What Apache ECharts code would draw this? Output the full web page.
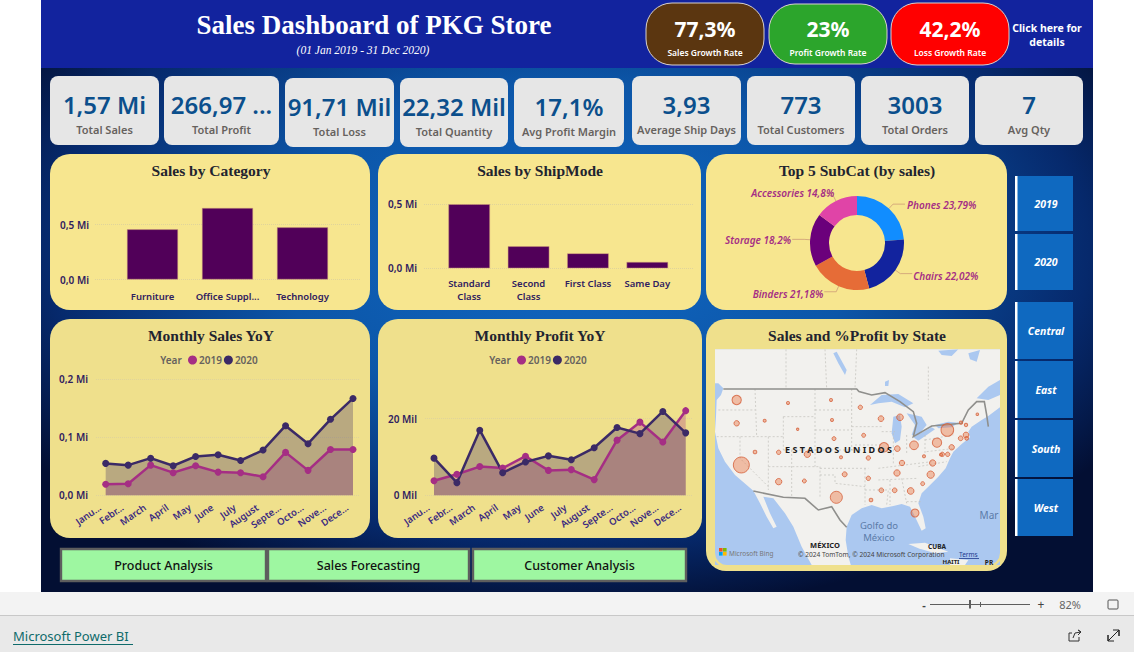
<!DOCTYPE html>
<html><head><meta charset="utf-8">
<style>html,body{margin:0;padding:0;background:#fff;overflow:hidden}#c{width:1134px;height:652px}</style>
<script src="https://cdn.jsdelivr.net/npm/echarts@6/dist/echarts.min.js"></script>
</head><body><div id="c"></div>
<script>
const kpiValues=['1,57 Mi','266,97 ...','91,71 Mil','22,32 Mil','17,1%','3,93','773','3003','7'];
const kpiLabels=['Total Sales','Total Profit','Total Loss','Total Quantity','Avg Profit Margin','Average Ship Days','Total Customers','Total Orders','Avg Qty'];
const rateValues=['77,3%','23%','42,2%'];
const rateLabels=['Sales Growth Rate','Profit Growth Rate','Loss Growth Rate'];
const categoryNames=['Furniture','Office Suppl...','Technology'];
const categorySales=[0.456,0.65,0.474];
const shipModes=['Standard\nClass','Second\nClass','First Class','Same Day'];
const shipSales=[0.498,0.171,0.116,0.049];
const subCats=['Phones','Chairs','Binders','Storage','Accessories'];
const subCatShare=[23.79,22.02,21.18,18.2,14.8];
const monthTicks=['Janu...','Febr...','March','April','May','June','July','August','Septe...','Octo...','Nove...','Dece...'];
const sales2019=[0.019,0.020,0.052,0.039,0.051,0.040,0.039,0.032,0.074,0.043,0.079,0.079];
const sales2020=[0.055,0.052,0.064,0.051,0.067,0.070,0.060,0.078,0.120,0.089,0.131,0.167];
const profit2019=[3.8,5.5,7.5,7.1,10.2,6.5,6.7,4.1,14.4,19.1,13.9,22.1];
const profit2020=[9.7,3.3,17.0,5.9,8.7,10.3,9.3,12.4,17.7,16.1,21.9,16.3];
const yearSlicers=['2019','2020'];
const regionSlicers=['Central','East','South','West'];
const navButtons=['Product Analysis','Sales Forecasting','Customer Analysis'];
// State bubbles: position on the map sheet and estimated sales (thousands)
const stateNames=['WA','OR','ID','MT','ND','SD','WY','NV','UT','CO','CA','AZ','NM','TX','NE','KS','OK','MN','WI','IA','MO','AR','LA','IL','IN','MI','OH','KY','TN','MS','AL','GA','FL','SC','NC','VA','WV','PA','NY','ME','VT','NH','MA','CT','RI','NJ','MD','DC','DE'];
const stateX=[95,95,179,249,378,381,278,150,221,307,109,221,298,394,387,408,419,466,528,476,490,490,498,537,577,585,627,591,576,529,569,617,630,653,677,683,657,696,727,817,768,783,783,767,785,740,728,712,708];
const stateY=[240,310,302,249,240,300,328,396,397,403,435,485,483,532,356,412,463,262,296,346,414,475,540,382,386,292,376,429,459,511,511,513,579,491,464,429,409,368,330,283,308,315,345,355,355,382,403,403,404];
const stateSales=[78,26,8,8,8,8,5,12,17,36,230,36,14,130,14,8,22,17,29,14,17,17,12,78,29,40,68,26,36,20,20,40,58,14,48,36,8,78,144,6,10,10,29,20,12,26,17,17,8];
// Map sheet geography
const landShapes=[
 [[20,70],[20,190],[40,190],[55,205],[48,225],[35,240],[33,290],[30,335],[40,385],[60,425],[90,465],[125,495],[145,512],[165,550],[185,590],[205,625],[215,620],[195,580],[175,530],[205,535],[240,580],[265,620],[290,680],[320,735],[320,760],[445,760],[430,710],[422,660],[425,620],[440,585],[470,565],[500,555],[530,565],[565,558],[590,552],[615,560],[630,590],[650,632],[662,625],[655,590],[640,550],[650,520],[670,500],[700,470],[722,445],[735,415],[745,395],[770,372],[795,352],[790,335],[800,320],[830,300],[850,288],[885,262],[900,262],[900,70]],
 [[610,672],[660,668],[730,695],[690,700],[640,685]],
 [[735,715],[790,720],[780,735],[735,735]]
];
const waterShapes=[
 [[495,255],[530,225],[580,222],[625,250],[600,262],[560,245],[520,250]],
 [[565,290],[585,285],[590,320],[585,360],[570,370],[560,340]],
 [[605,280],[650,290],[665,315],[640,345],[620,345],[630,315]],
 [[625,352],[680,322],[690,328],[640,362]],
 [[690,315],[730,305],[760,308],[740,322],[700,325]],
 [[385,100],[395,95],[425,150],[420,165],[400,130]],
 [[885,180],[850,200],[815,235],[850,240],[885,225]],
 [[700,92],[760,88],[740,108],[710,105]],
 [[540,185],[552,180],[550,198],[540,198]],
 [[790,100],[825,90],[815,125],[795,118]]
];
const countryLines=[
 [[55,207],[455,207],[462,215],[500,225],[540,218],[585,245],[625,275],[635,310],[625,350],[680,318],[770,310],[790,270],[815,245],[838,245],[845,285],[850,320]],
 [[145,513],[235,532],[300,535],[340,570],[380,560],[405,600],[425,622]]
];
const stateLines=[
 [[40,270],[150,270]],[[150,207],[155,350]],[[35,350],[235,350]],[[235,290],[330,290]],[[235,290],[235,390]],[[330,207],[330,440]],[[190,350],[190,510]],[[105,350],[105,415],[190,500]],[[190,440],[345,440]],[[260,390],[260,530]],[[235,390],[340,390]],[[330,270],[440,270]],[[330,330],[440,330]],[[330,390],[470,390]],[[345,445],[490,445]],[[345,440],[345,530]],[[345,465],[390,465],[390,490],[480,500]],[[480,445],[480,555]],[[480,510],[550,510],[545,555]],[[440,320],[530,320]],[[450,375],[530,375]],[[440,207],[440,390]],[[520,445],[680,425]],[[555,480],[555,555]],[[590,475],[605,550]],[[520,480],[640,475]],[[605,545],[650,545]],[[565,340],[565,430]],[[605,345],[605,400]],[[530,335],[570,335]],[[660,360],[745,345]],[[665,395],[750,385]],[[660,345],[660,400]],[[640,440],[725,425]],
 [[243,88],[243,207]],[[360,88],[365,207]],[[455,88],[450,207]],[[670,140],[670,240]]
];

const SANS='"Noto Sans","Open Sans",sans-serif', SERIF='"Liberation Serif","DejaVu Serif",serif';
const YELLOW='#f7e68f', YELLOW2='#efe08c', C19='#a52e84', C20='#3b2a66', AXC='#2f2060';
const g=[];
function rect(x,y,w,h,fill,r,extra){g.push(Object.assign({type:'rect',shape:{x,y,width:w,height:h,r:r||0},style:{fill},silent:true,z:0},extra||{}));}
function text(x,y,t,font,fill,align,extra){g.push(Object.assign({type:'text',x,y,silent:true,z:50,style:{text:t,font,fill,align:align||'center',verticalAlign:'middle'}},extra||{}));}
// page
rect(0,592,1134,23,'#f3f3f3');
rect(0,615,1134,1,'#c8c8c8');
rect(0,616,1134,36,'#e9e9e9');
rect(41,0,1052,592,{type:'radial',x:0.5,y:0.42,r:0.62,colorStops:[{offset:0,color:'#1168c4'},{offset:0.45,color:'#0c56a8'},{offset:0.8,color:'#06296c'},{offset:1,color:'#030f33'}]});
rect(41,0,1052,68,'#12239e');
text(374,25,'Sales Dashboard of PKG Store','bold 27px '+SERIF,'#fff');
text(363,50,'(01 Jan 2019 - 31 Dec 2020)','italic 11.5px '+SERIF,'#fff');
// growth pills
const pillX=[646,769,891], pillCol=['#5b3610','#2ca52c','#ff0000'];
rateValues.forEach((v,i)=>{rect(pillX[i],i==1?4:3,118,i==1?60:62,pillCol[i],26,{style:{fill:pillCol[i],stroke:'#d9d2cc',lineWidth:1}});
 text(pillX[i]+59,29,v,'bold 21px '+SANS,'#fff');text(pillX[i]+59,52,rateLabels[i],'600 8.5px '+SANS,'#fff');});
text(1047,28,'Click here for','bold 10.5px '+SANS,'#fff');text(1047,42,'details','bold 10.5px '+SANS,'#fff');
// KPI cards
const kpiX=[50,164,285,400,514,632,747,861,975],kpiW=[109,115,109,108,110,109,108,108,108],kpiT=[76,76,78,78,78,76,76,76,76];
kpiValues.forEach((v,i)=>{rect(kpiX[i],kpiT[i],kpiW[i],69,'#e6e6e6',8);
 text(kpiX[i]+kpiW[i]/2,kpiT[i]+28,v,'600 24px '+SANS,'#0b4f8c');
 text(kpiX[i]+kpiW[i]/2,kpiT[i]+53,kpiLabels[i],'600 11px '+SANS,'#66625e');});
// panels
[[50,154,320,156,YELLOW],[378,154,323,156,YELLOW],[706,154,301,156,YELLOW],[50,319,320,219,YELLOW2],[378,319,324,219,YELLOW2],[706,319,301,252,YELLOW2]].forEach(p=>rect(p[0],p[1],p[2],p[3],p[4],20));
[[211,170,'Sales by Category'],[540,170,'Sales by ShipMode'],[857,170,'Top 5 SubCat (by sales)'],[211,335,'Monthly Sales YoY'],[540,335,'Monthly Profit YoY'],[857,335,'Sales and %Profit by State']].forEach(t=>text(t[0],t[1],t[2],'bold 15.5px '+SERIF,'#1f2430'));
// legend lead-in
text(171,360,'Year','600 10px '+SANS,'#66625e');text(500,360,'Year','600 10px '+SANS,'#66625e');
// slicers
function slicer(y,h,t){rect(1015,y,58,h,'#0f69c0');rect(1015,y,2.5,h,'#fff');
 text(1046,y+h/2,t,'italic bold 10.5px '+SANS,'#fff','center',{style:{text:t,font:'italic bold 10.5px '+SANS,fill:'#fff',align:'center',verticalAlign:'middle',shadowBlur:3,shadowColor:'rgba(0,0,0,.6)'}});}
slicer(176,55,yearSlicers[0]);slicer(234,56,yearSlicers[1]);
[302,361,420,479].forEach((y,i)=>slicer(y,57,regionSlicers[i]));
// nav buttons
[[60,207],[267,203],[472,215]].forEach((b,i)=>{g.push({type:'rect',shape:{x:b[0]+1,y:549,width:b[1]-2,height:32},style:{fill:'#9ef7a1',stroke:'#5e5e5e',lineWidth:2.4},silent:true,z:1});
 text(b[0]+b[1]/2,565.5,navButtons[i],'500 12.5px '+SANS,'#111');});
// rounded bottom of the map sheet
g.push({type:'polygon',shape:{points:[[712,349],[715,349],[715,553],[716,558],[719,562],[723,564.5],[727,565],[988,565],[992,564.5],[996,562],[999,558],[1000,553],[1000,349],[1003,349],[1003,553],[1000,561],[994,567],[985,570],[730,570],[721,567],[715,561],[712,553]]},style:{fill:YELLOW2},silent:true,z:40});
// map overlay text
text(838.5,449,'E S T A D O S  U N I D O S','bold 9px '+SANS,'#1a1a1a');
text(879,525,'Golfo do','9.5px '+SANS,'#5b7ba8');text(879,537.5,'México','9.5px '+SANS,'#5b7ba8');
text(989,515,'Mar','10px '+SANS,'#5b7ba8');
text(825,545,'MÉXICO','bold 7.5px '+SANS,'#222');text(937,546.5,'CUBA','bold 6.5px '+SANS,'#222');text(951,562,'HAITI','bold 6px '+SANS,'#222');text(989,562,'PR','bold 6.5px '+SANS,'#222');
[['#f25022',719,548],['#7fba00',723,548],['#00a4ef',719,552],['#ffb900',723,552]].forEach(s=>rect(s[1],s[2],3.6,3.6,s[0],0,{z:60}));
text(729,553,'Microsoft Bing','6.5px '+SANS,'#777','left');
text(798,554,'© 2024 TomTom, © 2024 Microsoft Corporation','6.6px '+SANS,'#444','left');
text(959,554,'Terms','6.5px '+SANS,'#1f3a8f','left');rect(959,558,20,0.8,'#1f3a8f',0,{z:50});
// footer chrome
rect(930,604,100,1,'#5e5e5e');rect(969,600,2,8.5,'#5e5e5e');rect(980,602,1,5,'#5e5e5e');
text(924,604,'-','bold 11px '+SANS,'#444');text(1041,604,'+','12px '+SANS,'#444');text(1070,604,'82%','11px '+SANS,'#666');
g.push({type:'rect',shape:{x:1108,y:600,width:10,height:9,r:1},style:{fill:'none',stroke:'#555',lineWidth:1},silent:true,z:50});
text(13,636,'Microsoft Power BI','13px '+SANS,'#0f6b6b','left');rect(13,644,120,1,'#0f6b6b',0,{z:50});
g.push({type:'polyline',shape:{points:[[1072,633],[1069,633],[1069,641],[1079,641],[1079,637]]},style:{fill:'none',stroke:'#333',lineWidth:1},silent:true,z:50});
g.push({type:'polyline',shape:{points:[[1073,638],[1075,633],[1081,632],[1078,630],[1081,632],[1078,635]]},style:{fill:'none',stroke:'#333',lineWidth:1},silent:true,z:50});
g.push({type:'polyline',shape:{points:[[1113,630],[1119,630],[1119,636],[1119,630],[1108,641],[1108,635],[1108,641],[1114,641]]},style:{fill:'none',stroke:'#222',lineWidth:1},silent:true,z:50});

// chart helpers
function ax(margin,extra){return Object.assign({type:'value',min:0,axisLine:{show:false},axisTick:{show:false},
 splitLine:{show:true,showMaxLine:false,lineStyle:{type:'dotted',color:'#e0d49a'}},
 axisLabel:{color:AXC,fontFamily:'Noto Sans',fontSize:10,fontWeight:600,margin,showMaxLabel:false}},extra);}
const mi=v=>v.toFixed(1).replace('.',',')+' Mi';
const mil=v=>v+' Mil';
const grids=[
 {left:115,top:169.5,width:225,height:110},{left:95,top:169.5,width:265,height:110},
 {left:439.5,top:139.7,width:237.5,height:128.6},{left:424,top:139.7,width:270,height:128.6},
 {left:105.7,top:379.3,width:247.3,height:116},{left:96,top:379.3,width:264,height:116},
 {left:434,top:342.1,width:251.7,height:153.2},{left:425,top:342.1,width:267,height:153.2},
 {left:715,top:349.3,width:285,height:215.7}
];
const blankX=i=>({type:'value',gridIndex:i,min:0,max:1,show:false});
const hiddenY=(i,max)=>({type:'value',gridIndex:i,min:0,max,show:false});
const catLabel={color:AXC,fontFamily:'Noto Sans',fontSize:9.5,fontWeight:600,interval:0};
const monthLabel=Object.assign({},catLabel,{rotate:35,margin:7,padding:[0,7,0,0],color:'#3b2a80'});
const xAxis=[
 {type:'category',gridIndex:0,data:categoryNames,axisLine:{show:false},axisTick:{show:false},axisLabel:Object.assign({},catLabel,{margin:12})},
 blankX(1),
 {type:'category',gridIndex:2,data:shipModes,axisLine:{show:false},axisTick:{show:false},axisLabel:Object.assign({},catLabel,{margin:9,lineHeight:13})},
 blankX(3),
 {type:'category',gridIndex:4,data:monthTicks,boundaryGap:false,axisLine:{show:false},axisTick:{show:false},axisLabel:monthLabel},
 blankX(5),
 {type:'category',gridIndex:6,data:monthTicks,boundaryGap:false,axisLine:{show:false},axisTick:{show:false},axisLabel:monthLabel},
 blankX(7),
 {type:'value',gridIndex:8,min:30,max:885,show:false}
];
const yL=(margin,formatter,showMax)=>({color:AXC,fontFamily:'Noto Sans',fontSize:10,fontWeight:600,margin,showMaxLabel:showMax,formatter});
const yAxis=[
 hiddenY(0,1),ax(6,{gridIndex:1,max:1,interval:0.5,axisLabel:yL(6,mi,false)}),
 hiddenY(2,1),ax(7,{gridIndex:3,max:1,interval:0.5,axisLabel:yL(7,mi,false)}),
 hiddenY(4,0.2),ax(8,{gridIndex:5,max:0.2,interval:0.1,splitLine:{show:true,lineStyle:{type:'dotted',color:'#e0d49a'}},axisLabel:yL(8,mi,true)}),
 hiddenY(6,40),ax(8,{gridIndex:7,max:40,interval:20,axisLabel:yL(8,mil,false)}),
 {type:'value',gridIndex:8,min:88,max:735,inverse:true,show:false}
];
const barS=(x,data,w)=>({type:'bar',xAxisIndex:x,yAxisIndex:x,data,barWidth:w,itemStyle:{color:'#510059',borderColor:'#cf9a7a',borderWidth:0.5},silent:true});
const lineS=(x,name,data,c)=>({type:'line',name,xAxisIndex:x,yAxisIndex:x,data,symbol:'circle',symbolSize:7,showSymbol:true,lineStyle:{color:c,width:2.5},itemStyle:{color:c},areaStyle:{color:c,opacity:0.3},silent:true,clip:false});
function polyShapes(list,fill,stroke,width,dash,z){return {type:'custom',xAxisIndex:8,yAxisIndex:8,coordinateSystem:'cartesian2d',clip:true,silent:true,z,
 data:list.map((_,i)=>[i]),
 renderItem:(p,api)=>{const pts=list[api.value(0)].map(q=>api.coord(q));
  return fill?{type:'polygon',shape:{points:pts},style:{fill}}:{type:'polyline',shape:{points:pts},style:{fill:'none',stroke,lineWidth:width,lineDash:dash}};}};}
const pieShift=[{dx:-3,dy:1},{dx:-4,dy:2},{dx:4,dy:2},{dx:4,dy:1},{dx:18,dy:-3}];
const series=[
 barS(0,categorySales,51),barS(2,shipSales,41.5),
 lineS(4,'2019',sales2019,C19),lineS(4,'2020',sales2020,C20),
 lineS(6,'2019',profit2019,C19),lineS(6,'2020',profit2020,C20),
 {type:'pie',center:[857,243],radius:[28,47],startAngle:90,silent:true,
  data:subCats.map((n,i)=>({name:n,value:subCatShare[i],itemStyle:{color:['#118dff','#12239e','#e66c37','#6b007b','#e044a7'][i]}})),
  label:{color:C19,fontFamily:'Noto Sans',fontStyle:'italic',fontWeight:600,fontSize:10,formatter:p=>p.name+' '+String(p.value).replace('.',',')+'%'},
  labelLine:{length:6,length2:12,lineStyle:{color:'#d6ab7c',width:1}},
  labelLayout:p=>pieShift[p.dataIndex]},
 {type:'custom',xAxisIndex:8,yAxisIndex:8,coordinateSystem:'cartesian2d',clip:true,silent:true,z:1.5,data:[[0]],
  renderItem:(p,api)=>{const a=api.coord([30,88]),b=api.coord([885,735]);return {type:'rect',shape:{x:a[0],y:a[1],width:b[0]-a[0],height:b[1]-a[1]},style:{fill:'#abc8f0'}};}},
 polyShapes(landShapes,'#f2f1ee',null,0,null,1.6),
 polyShapes(waterShapes,'#abc8f0',null,0,null,1.7),
 polyShapes(stateLines,null,'#c2c0ba',0.7,[2,2],1.8),
 polyShapes(countryLines,null,'#8f8f8c',1.6,null,1.9),
 {type:'scatter',xAxisIndex:8,yAxisIndex:8,silent:true,clip:true,z:3,
  data:stateNames.map((n,i)=>({name:n,value:[stateX[i],stateY[i],stateSales[i]]})),
  symbolSize:d=>Math.sqrt(d[2]*10)/3,
  itemStyle:{color:'rgba(235,120,70,.55)',borderColor:'#d55f3a',borderWidth:1}}
];
const legendCommon={icon:'circle',itemWidth:9,itemHeight:9,itemGap:2,textStyle:{color:'#66625e',fontFamily:'Noto Sans',fontSize:10,fontWeight:600,padding:[0,0,0,-3]},data:['2019','2020'],selectedMode:false,padding:0};
const chart=echarts.init(document.getElementById('c'),null,{renderer:'svg'});
chart.setOption({animation:false,grid:grids,xAxis,yAxis,series,
 legend:[Object.assign({left:188,top:355},legendCommon),Object.assign({left:517,top:355},legendCommon)],
 graphic:{elements:g}});
</script></body></html>
